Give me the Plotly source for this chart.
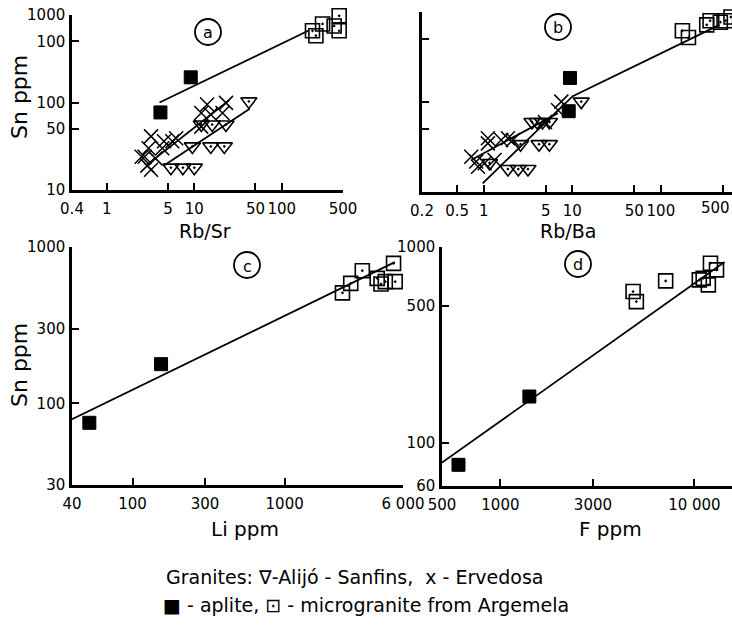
import plotly.graph_objects as go
import math

W, H = 732, 625

# ---------------- data ----------------
# Panel a: Rb/Sr vs Sn ppm
a_alijo_x = [42, 12, 16, 23, 9.5, 15.4, 22, 5.4, 7.4, 10]
a_alijo_y = [103, 56, 56, 56, 31.5, 31.5, 31.5, 18, 18, 18]
a_erv_x = [14, 23, 12, 15.4, 21, 12, 3.2, 4.5, 6.2, 5.6, 3.0, 4.3, 2.7, 3.6, 2.9, 3.2, 2.5]
a_erv_y = [95, 99, 76, 73, 76, 53, 41, 36, 39, 36, 30, 30, 24, 23, 19, 17, 24]
a_aplite_x = [4.1, 9.1]
a_aplite_y = [77, 194]
a_micro_x = [224, 245, 292, 396, 452, 452, 515]
a_micro_y = [660, 580, 790, 750, 980, 660, 825]
a_line_main_x = [4, 200]
a_line_main_y = [100, 660]
a_line_erv_x = [2.9, 25]
a_line_erv_y = [19.5, 106]
a_line_alijo_x = [4.5, 43]
a_line_alijo_y = [19, 85]

# Panel b: Rb/Ba vs Sn ppm
b_alijo_x = [12.6, 3.5, 4.0, 4.6, 5.5, 2.6, 4.2, 5.5, 1.16, 1.87, 2.45, 3.15]
b_alijo_y = [101, 60, 60, 60, 60, 34, 34, 34, 21, 18, 18, 18]
b_erv_x = [7.5, 6.9, 4.9, 1.11, 1.11, 1.57, 1.87, 2.13, 0.72, 0.82, 1.02, 1.32, 0.86]
b_erv_y = [101, 81, 60, 39.5, 34.7, 37.9, 39.5, 37.9, 24.7, 21.8, 20.9, 22.7, 19.1]
b_aplite_x = [9.4, 9.1]
b_aplite_y = [185, 79]
b_micro_x = [175, 205, 330, 360, 470, 540, 620]
b_micro_y = [620, 520, 720, 800, 770, 800, 880]
b_line_main_x = [0.97, 10.1, 460]
b_line_main_y = [12.5, 116, 720]
b_line_erv_x = [0.72, 6.85]
b_line_erv_y = [22.7, 75]

# Panel c: Li ppm vs Sn ppm
c_aplite_x = [52, 154]
c_aplite_y = [75, 178]
c_micro_x = [2400, 2720, 3240, 4060, 4300, 4590, 5200, 5330]
c_micro_y = [509, 585, 705, 630, 580, 600, 786, 600]
c_line_x = [40, 5300]
c_line_y = [79, 800]

# Panel d: F ppm vs Sn ppm
d_aplite_x = [608, 1410]
d_aplite_y = [77, 172]
d_micro_x = [4830, 5020, 7110, 10600, 11100, 12100, 11800, 13000]
d_micro_y = [592, 526, 671, 679, 692, 826, 640, 764]
d_line_x = [500, 14300]
d_line_y = [79, 838]

# tick labels
a_xticks = [0.4, 1, 5, 10, 50, 100, 500]
a_xtext = ["0.4", "1", "5", "10", "50", "100", "500"]
a_yticks = [10, 50, 100, 500, 1000]
a_ytext = ["10", "50", "100", "100", "1000"]
b_xticks = [0.2, 0.5, 1, 5, 10, 50, 100, 500]
b_xtext = ["0.2", "0.5", "1", "5", "10", "50", "100", ""]
b_last_label = "500"
c_xticks = [40, 100, 300, 1000, 6000]
c_xtext = ["40", "100", "300", "1000", "6 000"]
c_yticks = [30, 100, 300, 1000]
c_ytext = ["30", "100", "300", "1000"]
d_xticks = [500, 1000, 3000, 10000]
d_xtext = ["500", "1000", "3000", "10 000"]
d_yticks = [60, 100, 500, 1000]
d_ytext = ["60", "100", "500", "1000"]

# ---------------- helpers ----------------
FONT = "DejaVu Sans"
def px(x):
    return x / W
def py(y):
    return 1 - y / H

fig = go.Figure()

def add_panel(suffix, alijo=None, erv=None, aplite=None, micro=None, lines=()):
    xa = "x" + suffix
    ya = "y" + suffix
    for lx, ly in lines:
        fig.add_trace(go.Scatter(x=lx, y=ly, mode="lines", xaxis=xa, yaxis=ya,
                                 line=dict(color="black", width=1.8),
                                 showlegend=False, hoverinfo="skip", cliponaxis=False))
    if alijo:
        fig.add_trace(go.Scatter(x=alijo[0], y=alijo[1], mode="markers", xaxis=xa, yaxis=ya,
                                 marker=dict(symbol="triangle-down-open-dot", size=14, color="black",
                                             line=dict(width=1.6, color="black")),
                                 showlegend=False, cliponaxis=False))
    if erv:
        fig.add_trace(go.Scatter(x=erv[0], y=erv[1], mode="markers", xaxis=xa, yaxis=ya,
                                 marker=dict(symbol="x-thin-open", size=14, color="black",
                                             line=dict(width=1.5, color="black")),
                                 showlegend=False, cliponaxis=False))
    if aplite:
        fig.add_trace(go.Scatter(x=aplite[0], y=aplite[1], mode="markers", xaxis=xa, yaxis=ya,
                                 marker=dict(symbol="square", size=13, color="black",
                                             line=dict(width=1, color="black")),
                                 showlegend=False, cliponaxis=False))
    if micro:
        fig.add_trace(go.Scatter(x=micro[0], y=micro[1], mode="markers", xaxis=xa, yaxis=ya,
                                 marker=dict(symbol="square-open-dot", size=14, color="black",
                                             line=dict(width=1.6, color="black")),
                                 showlegend=False, cliponaxis=False))

add_panel("", (a_alijo_x, a_alijo_y), (a_erv_x, a_erv_y), (a_aplite_x, a_aplite_y),
          (a_micro_x, a_micro_y),
          [(a_line_main_x, a_line_main_y), (a_line_erv_x, a_line_erv_y), (a_line_alijo_x, a_line_alijo_y)])
add_panel("2", (b_alijo_x, b_alijo_y), (b_erv_x, b_erv_y), (b_aplite_x, b_aplite_y),
          (b_micro_x, b_micro_y),
          [(b_line_main_x, b_line_main_y), (b_line_erv_x, b_line_erv_y)])
add_panel("3", None, None, (c_aplite_x, c_aplite_y), (c_micro_x, c_micro_y),
          [(c_line_x, c_line_y)])
add_panel("4", None, None, (d_aplite_x, d_aplite_y), (d_micro_x, d_micro_y),
          [(d_line_x, d_line_y)])

def axis(domain, rng, tickvals, ticktext, anchor, show_labels=True, standoff=3):
    return dict(type="log", domain=domain, range=rng, anchor=anchor,
                tickmode="array", tickvals=tickvals, ticktext=ticktext,
                showticklabels=show_labels, tickangle=0, automargin=False,
                ticklabelstandoff=standoff, ticklabeloverflow="allow",
                ticks="inside", ticklen=7, tickwidth=2, tickcolor="black",
                showline=True, linewidth=2.5, linecolor="black",
                showgrid=False, zeroline=False,
                tickfont=dict(family=FONT, size=15, color="black"))

L = math.log10

fig.update_layout(
    width=W, height=H, margin=dict(l=0, r=0, t=0, b=0, autoexpand=False),
    paper_bgcolor="white", plot_bgcolor="white", showlegend=False,
    xaxis=axis([px(72), px(343)], [L(0.4), L(500)], a_xticks, a_xtext, "y"),
    yaxis=axis([py(190), py(15)], [1, 3], a_yticks, a_ytext, "x", standoff=1),
    xaxis2=axis([px(422), px(732)], [L(0.2), L(0.2) + 310 / 88.5], b_xticks, b_xtext, "y2"),
    yaxis2=axis([py(192), py(12)], [1, 3], a_yticks, a_ytext, "x2", show_labels=False),
    xaxis3=axis([px(72), px(403)], [L(40), L(6000)], c_xticks, c_xtext, "y3"),
    yaxis3=axis([py(485), py(247)], [L(30), 3], c_yticks, c_ytext, "x3", standoff=1),
    xaxis4=axis([px(442), px(732)], [L(500), L(500) + 290 / 194], d_xticks, d_xtext, "y4"),
    yaxis4=axis([py(486), py(247)], [L(60), 3], d_yticks, d_ytext, "x4", standoff=1),
)

# last tick label of panel b, kept inside the page
fig.add_annotation(x=1.0, y=py(208), xref="paper", yref="paper", text=b_last_label,
                   showarrow=False, font=dict(family=FONT, size=15, color="black"),
                   xanchor="right", yanchor="middle")

# circled panel letters
circles = [("a", 208, 32), ("b", 558, 27), ("c", 247, 265), ("d", 578, 264)]
for letter, cx, cy in circles:
    fig.add_shape(type="circle", xref="paper", yref="paper", xsizemode="pixel", ysizemode="pixel",
                  xanchor=px(cx), yanchor=py(cy), x0=-13, x1=13, y0=-13, y1=13,
                  line=dict(color="black", width=1.8))
    fig.add_annotation(x=px(cx), y=py(cy + 1), xref="paper", yref="paper", text=letter,
                       showarrow=False, font=dict(family=FONT, size=16, color="black"),
                       xanchor="center", yanchor="middle")

# axis titles
titles = [("Rb/Sr", 205, 231, 0, 19), ("Rb/Ba", 568, 231, 0, 19), ("Li ppm", 245, 529, 0, 20),
          ("F ppm", 610, 529, 0, 20), ("Sn ppm", 19, 97, -90, 22), ("Sn ppm", 19, 365, -90, 22)]
for t, tx, ty, ang, fs in titles:
    fig.add_annotation(x=px(tx), y=py(ty), xref="paper", yref="paper", text=t, textangle=ang,
                       showarrow=False, font=dict(family=FONT, size=fs, color="black"),
                       xanchor="center", yanchor="middle")

# key text
fig.add_annotation(x=px(354), y=py(577), xref="paper", yref="paper",
                   text="Granites: \u2207-Alij\u00f3 - Sanfins,  x - Ervedosa",
                   showarrow=False, font=dict(family=FONT, size=19, color="black"),
                   xanchor="center", yanchor="middle")
fig.add_annotation(x=px(366), y=py(605), xref="paper", yref="paper",
                   text="\u25a0 - aplite, \u22a1 - microgranite from Argemela",
                   showarrow=False, font=dict(family=FONT, size=19, color="black"),
                   xanchor="center", yanchor="middle")

fig.write_html("out.html", config={"displayModeBar": False},
               post_script="document.body.style.margin='0';document.body.style.overflow='hidden';")
